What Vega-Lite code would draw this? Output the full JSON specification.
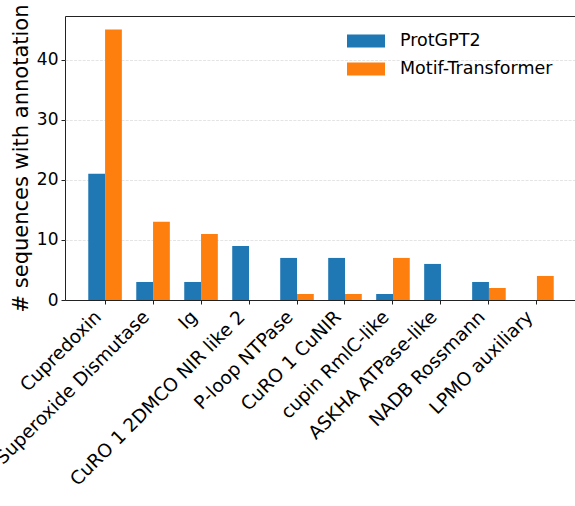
{
  "$schema": "https://vega.github.io/schema/vega-lite/v6.json",
  "width": 512,
  "height": 284,
  "autosize": {"type": "none"},
  "padding": {"left": 65, "top": 16, "right": -2, "bottom": 206},
  "background": "white",
  "data": {
    "values": [
      {"category": "Cupredoxin", "model": "ProtGPT2", "value": 21},
      {"category": "Cupredoxin", "model": "Motif-Transformer", "value": 45},
      {"category": "Superoxide Dismutase", "model": "ProtGPT2", "value": 3},
      {"category": "Superoxide Dismutase", "model": "Motif-Transformer", "value": 13},
      {"category": "Ig", "model": "ProtGPT2", "value": 3},
      {"category": "Ig", "model": "Motif-Transformer", "value": 11},
      {"category": "CuRO 1 2DMCO NIR like 2", "model": "ProtGPT2", "value": 9},
      {"category": "CuRO 1 2DMCO NIR like 2", "model": "Motif-Transformer", "value": 0},
      {"category": "P-loop NTPase", "model": "ProtGPT2", "value": 7},
      {"category": "P-loop NTPase", "model": "Motif-Transformer", "value": 1},
      {"category": "CuRO 1 CuNIR", "model": "ProtGPT2", "value": 7},
      {"category": "CuRO 1 CuNIR", "model": "Motif-Transformer", "value": 1},
      {"category": "cupin RmlC-like", "model": "ProtGPT2", "value": 1},
      {"category": "cupin RmlC-like", "model": "Motif-Transformer", "value": 7},
      {"category": "ASKHA ATPase-like", "model": "ProtGPT2", "value": 6},
      {"category": "ASKHA ATPase-like", "model": "Motif-Transformer", "value": 0},
      {"category": "NADB Rossmann", "model": "ProtGPT2", "value": 3},
      {"category": "NADB Rossmann", "model": "Motif-Transformer", "value": 2},
      {"category": "LPMO auxiliary", "model": "ProtGPT2", "value": 0},
      {"category": "LPMO auxiliary", "model": "Motif-Transformer", "value": 4}
    ]
  },
  "mark": {"type": "bar"},
  "encoding": {
    "x": {
      "field": "category",
      "type": "nominal",
      "sort": null,
      "scale": {"paddingInner": 0.3, "paddingOuter": 0.485},
      "axis": {
        "title": null,
        "labelAngle": -45,
        "labelAlign": "right",
        "labelBaseline": "bottom",
        "labelFontSize": 18.5,
        "labelLimit": 0,
        "labelColor": "#000000",
        "labelPadding": 16.5,
        "tickSize": 4,
        "tickColor": "#222222",
        "domain": false,
        "grid": false
      }
    },
    "xOffset": {
      "field": "model",
      "sort": ["ProtGPT2", "Motif-Transformer"],
      "scale": {"paddingInner": 0, "paddingOuter": 0}
    },
    "y": {
      "field": "value",
      "type": "quantitative",
      "scale": {"domain": [0, 47.25], "nice": false, "zero": true},
      "axis": {
        "title": "# sequences with annotation",
        "titleFontSize": 21,
        "titleFontWeight": "normal",
        "titleColor": "#000000",
        "titlePadding": 5,
        "values": [0, 10, 20, 30, 40],
        "labelFontSize": 17,
        "labelColor": "#000000",
        "labelPadding": 3,
        "tickSize": 4,
        "tickColor": "#222222",
        "domain": false,
        "grid": true,
        "gridColor": {"condition": {"test": "datum.value === 0", "value": "#222222"}, "value": "#dddddd"},
        "gridDash": {"condition": {"test": "datum.value === 0", "value": []}, "value": [3, 1.3]},
        "gridWidth": 0.8
      }
    },
    "color": {
      "field": "model",
      "type": "nominal",
      "sort": ["ProtGPT2", "Motif-Transformer"],
      "scale": {"range": ["#1f77b4", "#ff7f0e"]},
      "legend": {
        "title": null,
        "orient": "none",
        "legendX": 282,
        "legendY": 6,
        "symbolType": "M-1,-0.342H1V0.342H-1Z",
        "symbolSize": 1444,
        "symbolStrokeWidth": 0,
        "symbolOpacity": 1,
        "labelFontSize": 17.5,
        "labelColor": "#000000",
        "labelOffset": 15,
        "rowPadding": -12
      }
    }
  },
  "config": {
    "font": "DejaVu Sans",
    "view": {"stroke": "#222222", "strokeWidth": 1}
  }
}
